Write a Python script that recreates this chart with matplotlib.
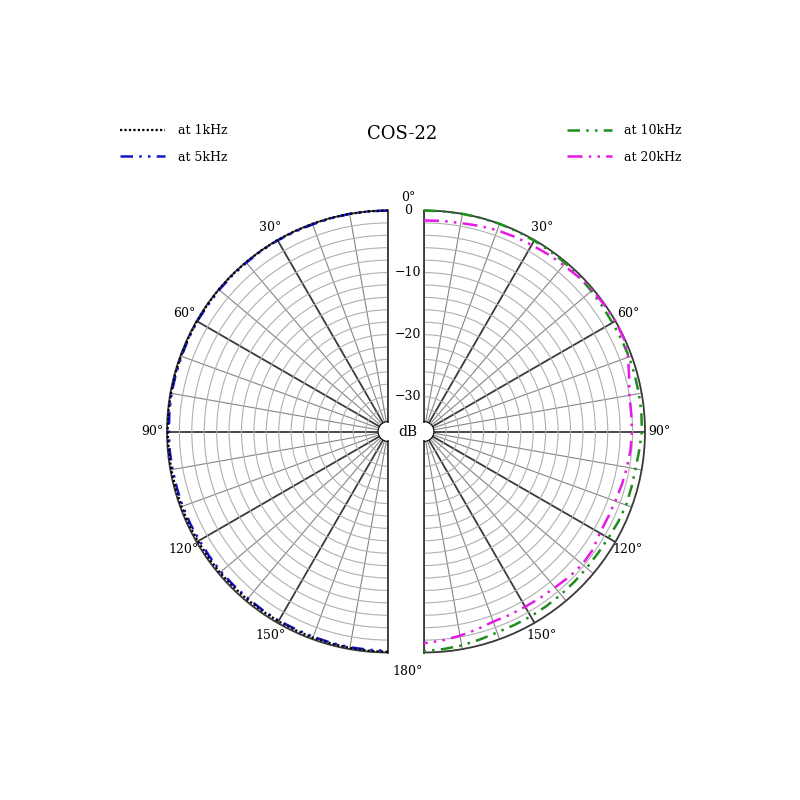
import numpy as np
import matplotlib
matplotlib.use('Agg')
import matplotlib.pyplot as plt
from matplotlib.transforms import offset_copy

plt.rcParams['font.family'] = ['DejaVu Serif', 'DejaVu Sans']

# ---------------- data ----------------
title = 'COS-22'
angles_deg = np.arange(0, 181, 5)

resp_1k = [0, 0, 0, 0, 0, 0, 0, 0, 0, 0, 0, -0.05, -0.05, -0.1, -0.1, -0.1, -0.1, -0.1,
           -0.1, -0.15, -0.15, -0.2, -0.2, -0.2, -0.25, -0.25, -0.25, -0.3, -0.3, -0.3,
           -0.3, -0.3, -0.25, -0.25, -0.2, -0.15, -0.1]
resp_5k = [0, 0, 0, -0.05, -0.1, -0.1, -0.05, -0.05, -0.1, -0.1, -0.1, -0.15, -0.1, -0.15,
           -0.2, -0.2, -0.2, -0.25, -0.3, -0.3, -0.35, -0.4, -0.4, -0.45, -0.5, -0.5, -0.45,
           -0.5, -0.5, -0.45, -0.4, -0.45, -0.4, -0.35, -0.3, -0.3, -0.25]
resp_10k = [0, 0, 0, 0, 0, -0.05, -0.1, -0.15, -0.2, -0.3, -0.4, -0.5, -0.55, -0.5, -0.45,
            -0.45, -0.45, -0.45, -0.5, -0.8, -1.0, -1.0, -0.95, -1.1, -1.3, -1.4, -1.4,
            -1.35, -1.3, -1.25, -1.2, -1.2, -1.15, -0.9, -0.6, -0.4, -0.2]
resp_20k = [-1.6, -1.55, -1.5, -1.3, -1.1, -1.0, -0.9, -0.75, -0.6, -0.4, -0.2, -0.1, 0,
            -0.1, -0.6, -1.4, -2.0, -2.1, -2.1, -2.2, -2.4, -2.6, -2.8, -2.9, -2.9, -2.4,
            -2.3, -2.5, -2.8, -2.9, -3.0, -3.0, -3.0, -2.6, -2.2, -1.8, -1.5]

db_labels = [0, -10, -20, -30]
angle_labels = [30, 60, 90, 120, 150]
legend_left = ['at 1kHz', 'at 5kHz']
legend_right = ['at 10kHz', 'at 20kHz']

R_MIN, R_MAX, R_ORIGIN = -34, 0, -35.6

# ---------------- figure ----------------
fig = plt.figure(figsize=(8, 8), dpi=100)
fig.patch.set_facecolor('white')
RAD = 221.0          # wedge radius in px
CY = 431.5           # centre y in px (from top)
S = 2 * RAD / 800    # square axes box size (fraction)
# wedge is centred in a square box; left wedge spans [167, 388], right [424, 645]
axL = fig.add_axes([(388 - RAD / 2) / 800 - S / 2, 1 - CY / 800 - S / 2, S, S], projection='polar')
axR = fig.add_axes([(424 + RAD / 2) / 800 - S / 2, 1 - CY / 800 - S / 2, S, S], projection='polar')

THICK = '#3a3a3a'
THIN = '#858585'


def setup(ax, direction):
    ax.set_theta_zero_location('N')
    ax.set_theta_direction(direction)
    ax.set_thetamin(0)
    ax.set_thetamax(180)
    ax.set_ylim(R_MIN, R_MAX)
    ax.set_rorigin(R_ORIGIN)
    rt = np.arange(-32, 1, 2)
    ax.set_yticks(rt)
    ax.set_yticklabels([])
    tt = np.arange(0, 181, 10)
    ax.set_xticks(np.deg2rad(tt))
    ax.set_xticklabels([f'{t}°' if t in angle_labels else '' for t in tt], fontsize=9)
    ax.tick_params(axis='x', pad=0)
    ax.grid(True)
    for tick, v in zip(ax.yaxis.get_major_ticks(), rt):
        thick = (v % 10 == 0)
        tick.gridline.set_color(THICK if thick else THIN)
        tick.gridline.set_linewidth(1.3 if thick else 0.8)
    for tick, t in zip(ax.xaxis.get_major_ticks(), tt):
        thick = (t % 30 == 0)
        tick.gridline.set_color(THICK if thick else THIN)
        tick.gridline.set_linewidth(1.3 if thick else 0.8)
    for name in ['polar', 'start', 'end']:
        ax.spines[name].set_color(THICK)
        ax.spines[name].set_linewidth(1.3)
    ax.spines['inner'].set_visible(False)


setup(axL, 1)
setup(axR, -1)

th = np.deg2rad(angles_deg)
l1, = axL.plot(th, resp_1k, color='black', ls=(0, (1, 1)), lw=1.6, clip_on=False,
               label=legend_left[0], zorder=5)
l5, = axL.plot(th, resp_5k, color='#1515cc', ls=(0, (5, 2.5, 1, 2.5, 1, 2.5)), lw=1.8,
               clip_on=False, label=legend_left[1], zorder=4)
l10, = axR.plot(th, resp_10k, color='#1e8c1e', ls=(0, (5, 2.5, 1, 2.5, 1, 2.5)), lw=1.8,
                clip_on=False, label=legend_right[0], zorder=4)
l20, = axR.plot(th, resp_20k, color='#e619e6', ls=(0, (6, 2.5, 1, 2.5, 1, 2.5)), lw=1.8,
                clip_on=False, label=legend_right[1], zorder=5)

# radial labels in the gap
for v in db_labels:
    lab = '0' if v == 0 else f'\u2212{abs(v)}'
    axL.text(0, v, lab, transform=offset_copy(axL.transData, fig=fig, x=20, y=0, units='dots'),
             ha='center', va='center', fontsize=9)
axL.text(0, R_ORIGIN, 'dB', transform=offset_copy(axL.transData, fig=fig, x=20, y=0, units='dots'),
         ha='center', va='center', fontsize=10)
axL.text(0, R_MAX, '0°', transform=offset_copy(axL.transData, fig=fig, x=20, y=13, units='dots'),
         ha='center', va='center', fontsize=9)
axL.text(np.pi, R_MAX, '180°', transform=offset_copy(axL.transData, fig=fig, x=20, y=-19, units='dots'),
         ha='center', va='center', fontsize=9)

fig.text(402 / 800, 1 - 134 / 800, title, ha='center', va='center', fontsize=13)

leg_kw = dict(frameon=False, fontsize=9, handlelength=3.6, handletextpad=1.0,
              labelspacing=1.1, borderpad=0, borderaxespad=0, loc='upper left')
fig.legend(handles=[l1, l5], bbox_to_anchor=(120 / 800, 1 - 124 / 800), **leg_kw)
fig.legend(handles=[l10, l20], bbox_to_anchor=(567 / 800, 1 - 124 / 800), **leg_kw)

fig.savefig('out.png', dpi=100, facecolor='white')
